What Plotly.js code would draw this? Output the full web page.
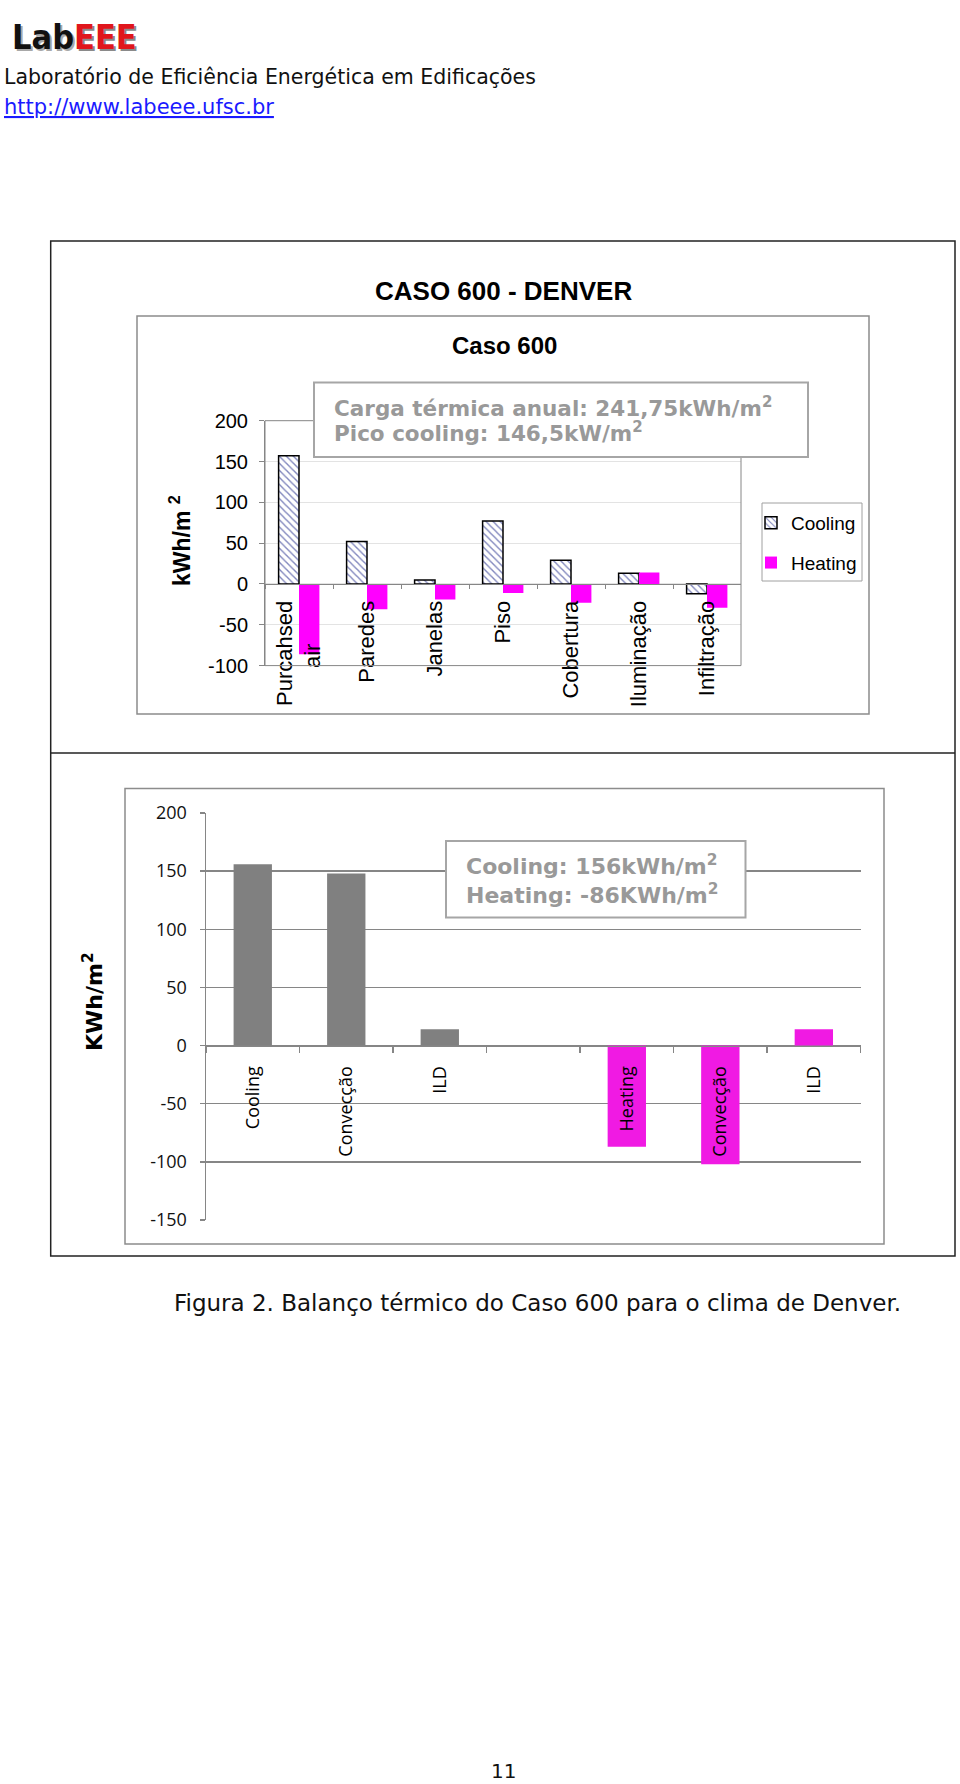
<!DOCTYPE html>
<html>
<head>
<meta charset="utf-8">
<script src="https://cdn.plot.ly/plotly-3.0.1.min.js"></script>
<style>
  html, body { margin: 0; padding: 0; background: #ffffff; }
  #page { width: 960px; height: 1784px; }
</style>
</head>
<body>
<div id="page"></div>
<script>
// ---------------- data ----------------
const topCategories = ['Purcahsed air', 'Paredes', 'Janelas', 'Piso', 'Cobertura', 'Iluminação', 'Infiltração'];
const topCooling = [157, 52, 5, 77, 29, 13, -12];
const topHeating = [-86, -31, -19, -11, -23, 14, -29];
const topYTicks = [-100, -50, 0, 50, 100, 150, 200];

const bottomLabels = ['Cooling', 'Convecção', 'ILD', '', 'Heating', 'Convecção', 'ILD'];
const bottomCoolingSide = [156, 148, 14, null, null, null, null];
const bottomHeatingSide = [null, null, null, null, -87, -102, 14];
const bottomYTicks = [-150, -100, -50, 0, 50, 100, 150, 200];

const seriesNames = ['Cooling', 'Heating'];

// ---------------- page geometry helpers ----------------
const W = 960, H = 1784;
const px = v => v / W;
const py = v => 1 - v / H;

const ARIAL = "'Liberation Sans', Arial, sans-serif";
const CONDENSED = "'DejaVu Sans Condensed', 'DejaVu Sans', sans-serif";
const TAHOMA = "'DejaVu Sans', Verdana, sans-serif";
const CALIBRI = "'Open Sans', sans-serif";

const GRAY_AXIS = '#868686';

const topXDomain = [px(265), px(741)];
const topYDomain = [py(665.6), py(420.7)];
const topRange = [topYTicks[0], topYTicks[topYTicks.length - 1]];
const zeroPos = (dom, rng) => dom[0] + (0 - rng[0]) / (rng[1] - rng[0]) * (dom[1] - dom[0]);

const botXDomain = [px(206), px(860.6)];
const botYDomain = [py(1220), py(813)];
const botRange = [bottomYTicks[0], bottomYTicks[bottomYTicks.length - 1]];

const nb = '\u00a0';
const topTickText = topCategories.map(c => {
  const parts = c.split(' ');
  if (parts.length < 2) return c;
  return parts[0] + '<br>' + parts[1] + nb.repeat(7);
});

const bottomKeys = bottomLabels.map((l, i) => 'k' + i);
const tickStr = v => String(v);  // plain hyphen minus, as in the reference

const traces = [
  {
    type: 'bar', name: seriesNames[0], x: topCategories, y: topCooling,
    xaxis: 'x', yaxis: 'y', offsetgroup: 'c', legendgroup: 'c',
    marker: {
      color: '#ffffff',
      line: { color: '#000000', width: 1.5 },
      pattern: { shape: '\\', fgcolor: '#8086bd', bgcolor: '#ffffff', size: 5, solidity: 0.28 }
    },
    hoverinfo: 'skip'
  },
  {
    type: 'bar', name: seriesNames[1], x: topCategories, y: topHeating,
    xaxis: 'x', yaxis: 'y', offsetgroup: 'h', legendgroup: 'h',
    marker: { color: '#ff00ff', line: { width: 0 } },
    hoverinfo: 'skip'
  },
  {
    type: 'bar', name: seriesNames[0], x: bottomKeys, y: bottomCoolingSide,
    xaxis: 'x2', yaxis: 'y2', offsetgroup: 'b', width: 0.41, showlegend: false,
    marker: { color: '#808080', line: { width: 0 } },
    hoverinfo: 'skip'
  },
  {
    type: 'bar', name: seriesNames[1], x: bottomKeys, y: bottomHeatingSide,
    xaxis: 'x2', yaxis: 'y2', offsetgroup: 'b', width: 0.41, showlegend: false,
    marker: { color: '#f01ae3', line: { width: 0 } },
    hoverinfo: 'skip'
  }
];

const shapes = [
  { type: 'rect', xref: 'paper', yref: 'paper', x0: px(50.7), x1: px(955), y0: py(1256), y1: py(241),
    line: { color: '#222222', width: 1.5 }, layer: 'below' },
  { type: 'line', xref: 'paper', yref: 'paper', x0: px(50.7), x1: px(955), y0: py(753), y1: py(753),
    line: { color: '#222222', width: 1.5 }, layer: 'below' },
  { type: 'rect', xref: 'paper', yref: 'paper', x0: px(137), x1: px(869), y0: py(714), y1: py(316),
    line: { color: '#8c8c8c', width: 1.5 }, layer: 'below' },
  { type: 'rect', xref: 'paper', yref: 'paper', x0: px(125), x1: px(884), y0: py(1244), y1: py(788.5),
    line: { color: '#8c8c8c', width: 1.5 }, layer: 'below' },
  { type: 'rect', xref: 'x domain', yref: 'y domain', x0: 0, x1: 1, y0: 0, y1: 1,
    line: { color: GRAY_AXIS, width: 1 }, layer: 'above' },
  { type: 'rect', xref: 'paper', yref: 'paper', x0: px(314), x1: px(808), y0: py(457), y1: py(382.5),
    line: { color: '#a6a6a6', width: 2 }, fillcolor: '#ffffff', layer: 'above' },
  { type: 'rect', xref: 'paper', yref: 'paper', x0: px(446), x1: px(745.5), y0: py(917.5), y1: py(841),
    line: { color: '#a6a6a6', width: 2 }, fillcolor: '#ffffff', layer: 'above' },
  { type: 'rect', xref: 'paper', yref: 'paper', x0: px(762), x1: px(862), y0: py(581), y1: py(503),
    line: { color: '#a0a0a0', width: 1 }, fillcolor: '#ffffff', layer: 'above' }
];

const ann = (text, x, y, opts) => Object.assign({
  text: text, xref: 'paper', yref: 'paper', x: px(x), y: py(y),
  showarrow: false, xanchor: 'left', yanchor: 'middle'
}, opts);

const boxFont = s => ({ family: TAHOMA, size: s, color: '#999999' });

const annotations = [
  ann('<b>Lab<span style="color:#8a8a8a">EEE</span></b>', 12, 39.5,
      { font: { family: CONDENSED, size: 34, color: '#a8a8a8' } }),
  ann('<b>Lab<span style="color:#e0161c">EEE</span></b>', 9.5, 37,
      { font: { family: CONDENSED, size: 34, color: '#111111' } }),
  ann('Laboratório de Eficiência Energética em Edificações', 2, 77,
      { font: { family: TAHOMA, size: 20.5, color: '#111111' } }),
  ann('<u>http://www.labeee.ufsc.br</u>', 2, 107,
      { font: { family: TAHOMA, size: 21, color: '#1a1aff' } }),
  ann('<b>CASO 600 - DENVER</b>', 503, 291,
      { xanchor: 'center', font: { family: ARIAL, size: 26, color: '#000000' } }),
  ann('<b>Caso 600</b>', 505, 346,
      { xanchor: 'center', font: { family: ARIAL, size: 24, color: '#000000' } }),
  ann('<b>Carga térmica anual: 241,75kWh/m<sup>2</sup></b>', 332, 407, { font: boxFont(21.5) }),
  ann('<b>Pico cooling: 146,5kW/m<sup>2</sup></b>', 332, 432, { font: boxFont(21.5) }),
  ann('<b>Cooling: 156kWh/m<sup>2</sup></b>', 464, 865, { font: boxFont(22) }),
  ann('<b>Heating: -86KWh/m<sup>2</sup></b>', 464, 894, { font: boxFont(22) }),
  ann('<b>kWh/m <sup>2</sup></b>', 180, 541,
      { xanchor: 'center', textangle: -90, font: { family: ARIAL, size: 23, color: '#000000' } }),
  ann('<b>KWh/m<sup>2</sup></b>', 93, 1002,
      { xanchor: 'center', textangle: -90, font: { family: TAHOMA, size: 22, color: '#000000' } }),
  ann('Figura 2. Balanço térmico do Caso 600 para o clima de Denver.', 172, 1303,
      { font: { family: TAHOMA, size: 23, color: '#111111' } }),
  ann('11', 503, 1771,
      { xanchor: 'center', font: { family: TAHOMA, size: 20, color: '#111111' } })
];

const layout = {
  width: W, height: H,
  margin: { l: 0, r: 0, t: 0, b: 0, pad: 0 },
  paper_bgcolor: '#ffffff',
  plot_bgcolor: 'rgba(0,0,0,0)',
  barmode: 'group', bargap: 0.4, bargroupgap: 0,
  showlegend: true,
  legend: {
    x: px(751), y: py(504), xanchor: 'left', yanchor: 'top',
    bgcolor: 'rgba(0,0,0,0)', borderwidth: 0,
    font: { family: ARIAL, size: 19, color: '#000000' },
    traceorder: 'grouped', tracegroupgap: 12
  },
  xaxis: {
    domain: topXDomain, anchor: 'free', position: zeroPos(topYDomain, topRange),
    type: 'category', tickmode: 'array', tickvals: topCategories, ticktext: topTickText,
    tickson: 'boundaries', ticks: 'outside', ticklen: 4, tickcolor: GRAY_AXIS, tickwidth: 1,
    showline: true, linecolor: GRAY_AXIS, linewidth: 1, showgrid: false, zeroline: false,
    tickangle: -90, ticklabelstandoff: 7,
    tickfont: { family: ARIAL, size: 22, color: '#000000' }, fixedrange: true
  },
  yaxis: {
    domain: topYDomain, anchor: 'x', range: topRange,
    tickmode: 'array', tickvals: topYTicks, ticktext: topYTicks.map(tickStr),
    ticks: 'outside', ticklen: 5, tickcolor: GRAY_AXIS, ticklabelstandoff: 7,
    showline: true, linecolor: GRAY_AXIS, linewidth: 1,
    showgrid: true, gridcolor: '#e3e3e3', gridwidth: 1, zeroline: false,
    tickfont: { family: ARIAL, size: 20, color: '#000000' }, fixedrange: true
  },
  xaxis2: {
    domain: botXDomain, anchor: 'free', position: zeroPos(botYDomain, botRange),
    type: 'category', tickmode: 'array', tickvals: bottomKeys, ticktext: bottomLabels,
    tickson: 'boundaries', ticks: 'outside', ticklen: 6, tickcolor: GRAY_AXIS, tickwidth: 1.5,
    showline: true, linecolor: GRAY_AXIS, linewidth: 1.5, showgrid: false, zeroline: false,
    tickangle: -90, ticklabelstandoff: 12,
    tickfont: { family: CALIBRI, size: 18, color: '#000000' }, fixedrange: true
  },
  yaxis2: {
    domain: botYDomain, anchor: 'x2', range: botRange,
    tickmode: 'array', tickvals: bottomYTicks, ticktext: bottomYTicks.map(tickStr),
    ticks: 'outside', ticklen: 5, tickcolor: GRAY_AXIS, tickwidth: 1.5, ticklabelstandoff: 9,
    showline: true, linecolor: GRAY_AXIS, linewidth: 1.5,
    showgrid: true, gridcolor: GRAY_AXIS, gridwidth: 1.5, zeroline: false,
    tickfont: { family: CALIBRI, size: 18, color: '#111111' }, fixedrange: true
  },
  shapes: shapes,
  annotations: annotations
};

Plotly.newPlot('page', traces, layout, { displayModeBar: false, staticPlot: true });
</script>
</body>
</html>
